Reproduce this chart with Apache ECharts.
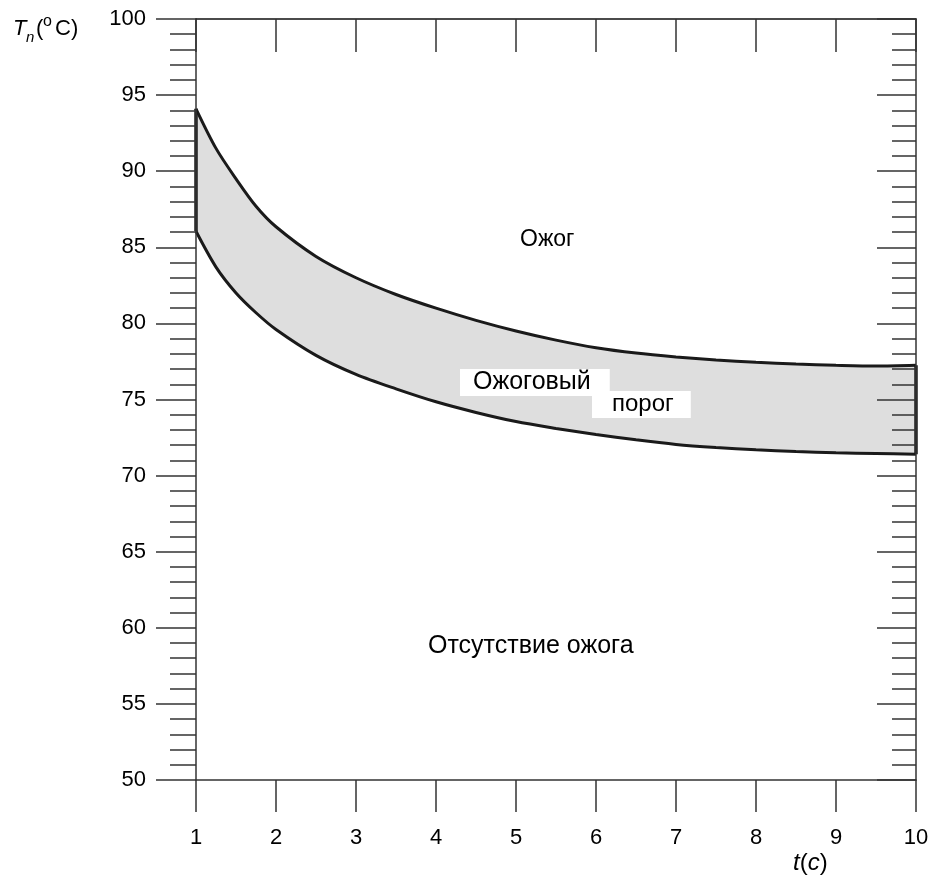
<!DOCTYPE html>
<html>
<head>
<meta charset="utf-8">
<script src="https://cdn.jsdelivr.net/npm/echarts@6/dist/echarts.min.js"></script>
<style>
  html, body { margin: 0; padding: 0; background: #fff; }
  #chart { width: 933px; height: 881px; }
</style>
</head>
<body>
<div id="chart"></div>
<script>
// время, с
var tValues = [1, 1.25, 1.5, 1.75, 2, 2.5, 3, 3.5, 4, 4.5, 5, 5.5, 6, 6.5, 7, 7.5, 8, 8.5, 9, 9.5, 10];
// верхняя граница ожогового порога
var upperT = [94.1, 91.5, 89.5, 87.7, 86.35, 84.4, 83.0, 81.9, 81.0, 80.2, 79.5, 78.9, 78.4, 78.05, 77.8, 77.6, 77.45, 77.33, 77.25, 77.2, 77.25];
// нижняя граница ожогового порога
var lowerT = [86.05, 83.7, 82.0, 80.7, 79.6, 77.9, 76.65, 75.7, 74.85, 74.15, 73.55, 73.1, 72.7, 72.35, 72.05, 71.85, 71.7, 71.58, 71.5, 71.45, 71.4];

var axisColor = "#333";
var curveColor = "#1a1a1a";
var font = "Liberation Sans, Arial, sans-serif";

(function () {
    var myChart = echarts.init(document.getElementById("chart"));

    var upperData = tValues.map(function (t, i) { return [t, upperT[i]]; });
    var lowerData = tValues.map(function (t, i) { return [t, lowerT[i]]; });
    var n = tValues.length - 1;

    var option = {
        animation: false,
        backgroundColor: "#fff",
        grid: { left: 196, right: 17, top: 19, bottom: 101 },
        xAxis: [
            {
                type: "value",
                position: "bottom",
                min: 1,
                max: 10,
                interval: 1,
                z: 10,
                axisLine: { onZero: false, lineStyle: { color: axisColor, width: 1.5 } },
                axisTick: { length: 32, lineStyle: { color: axisColor, width: 1.5 } },
                axisLabel: { margin: 47, fontSize: 22, color: "#000", fontFamily: font },
                splitLine: { show: false }
            },
            {
                type: "value",
                position: "top",
                min: 1,
                max: 10,
                interval: 1,
                z: 10,
                axisLine: { onZero: false, lineStyle: { color: "#111", width: 1.5 } },
                axisTick: { inside: true, length: 33, lineStyle: { color: axisColor, width: 1.5 } },
                axisLabel: { show: false },
                splitLine: { show: false }
            }
        ],
        yAxis: [
            {
                type: "value",
                position: "left",
                min: 50,
                max: 100,
                interval: 5,
                z: 10,
                axisLine: { onZero: false, lineStyle: { color: axisColor, width: 1.5 } },
                axisTick: { length: 40, lineStyle: { color: axisColor, width: 1.5 } },
                minorTick: { show: true, splitNumber: 5, length: 26, lineStyle: { color: axisColor, width: 1.5 } },
                axisLabel: { margin: 50, fontSize: 22, color: "#000", fontFamily: font },
                splitLine: { show: false },
                minorSplitLine: { show: false }
            },
            {
                type: "value",
                position: "right",
                min: 50,
                max: 100,
                interval: 5,
                z: 10,
                axisLine: { onZero: false, lineStyle: { color: axisColor, width: 1.5 } },
                axisTick: { inside: true, length: 39, lineStyle: { color: axisColor, width: 1.5 } },
                minorTick: { show: true, splitNumber: 5, length: 24, lineStyle: { color: axisColor, width: 1.5 } },
                axisLabel: { show: false },
                splitLine: { show: false },
                minorSplitLine: { show: false }
            }
        ],
        series: [
            {
                // верхняя кривая: серая заливка вниз до оси
                name: "верхняя",
                type: "line",
                data: upperData,
                smooth: 0.3,
                symbol: "none",
                lineStyle: { color: curveColor, width: 3 },
                areaStyle: { color: "#dedede", opacity: 1, origin: "start" },
                z: 2
            },
            {
                // нижняя кривая: белая заливка под ней
                name: "нижняя",
                type: "line",
                data: lowerData,
                smooth: 0.3,
                symbol: "none",
                lineStyle: { color: curveColor, width: 3 },
                areaStyle: { color: "#fff", opacity: 1, origin: "start" },
                z: 3
            },
            {
                // левая граница полосы
                type: "line",
                data: [[tValues[0], upperT[0]], [tValues[0], lowerT[0]]],
                symbol: "none",
                lineStyle: { color: curveColor, width: 3.5 },
                z: 5
            },
            {
                // правая граница полосы
                type: "line",
                data: [[tValues[n], upperT[n]], [tValues[n], lowerT[n]]],
                symbol: "none",
                lineStyle: { color: curveColor, width: 3.5 },
                z: 5
            }
        ],
        graphic: [
            // подпись оси Y: T_n(°C)
            { type: "text", left: 13, top: 18, style: { text: "T", font: "italic 22px " + font, fill: "#000" } },
            { type: "text", left: 26, top: 30, style: { text: "n", font: "italic 15px " + font, fill: "#000" } },
            { type: "text", left: 36, top: 18, style: { text: "(", font: "22px " + font, fill: "#000" } },
            { type: "text", left: 43, top: 14, style: { text: "o", font: "16px " + font, fill: "#000" } },
            { type: "text", left: 55, top: 18, style: { text: "C)", font: "22px " + font, fill: "#000" } },
            // подпись оси X: t(c)
            {
                type: "text", left: 793, top: 851,
                style: {
                    text: "{i|t}{n|(}{i|c}{n|)}",
                    rich: {
                        i: { font: "italic 24px " + font, fill: "#000" },
                        n: { font: "24px " + font, fill: "#000" }
                    }
                }
            },
            // области
            { type: "text", left: 520, top: 228, z: 10, style: { text: "Ожог", font: "23px " + font, fill: "#000" } },
            { type: "text", left: 428, top: 634, z: 10, style: { text: "Отсутствие ожога", font: "25px " + font, fill: "#000" } },
            {
                type: "text", left: 460, top: 369, z: 10,
                style: { text: "Ожоговый", font: "25px " + font, fill: "#000", backgroundColor: "#fff", padding: [1, 19, 1, 13] }
            },
            {
                type: "text", left: 592, top: 391, z: 10,
                style: { text: "порог", font: "24px " + font, fill: "#000", backgroundColor: "#fff", padding: [1, 17, 2, 20] }
            }
        ]
    };

    myChart.setOption(option);
    window.addEventListener("resize", function () {
        myChart.resize();
    });
})();
</script>
</body>
</html>
